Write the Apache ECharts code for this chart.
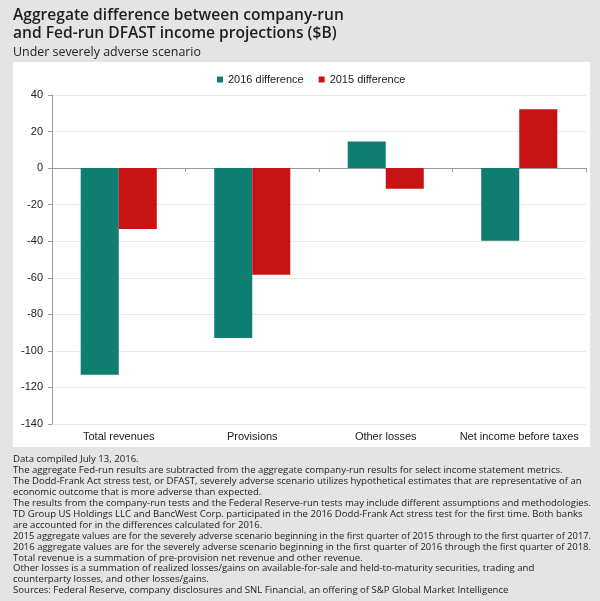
<!DOCTYPE html>
<html>
<head>
<meta charset="utf-8">
<script src="https://cdn.jsdelivr.net/npm/echarts@6/dist/echarts.min.js"></script>
<style>
  html, body { margin: 0; padding: 0; background: #e3e4e3; }
  #chart { width: 600px; height: 601px; }
</style>
</head>
<body>
<div id="chart"></div>
<script>
// chart values
const titleLines = ['Aggregate difference between company-run', 'and Fed-run DFAST income projections ($B)'];
const subtitle = 'Under severely adverse scenario';
const categories = ['Total revenues', 'Provisions', 'Other losses', 'Net income before taxes'];
const seriesNames = ['2016 difference', '2015 difference'];
const diff2016 = [-113, -93, 14.5, -39.7];
const diff2015 = [-33.3, -58.3, -11.3, 32.2];
const yMin = -140, yMax = 40, yStep = 20;
const notes = [
  'Data compiled July 13, 2016.',
  'The aggregate Fed-run results are subtracted from the aggregate company-run results for select income statement metrics.',
  'The Dodd-Frank Act stress test, or DFAST, severely adverse scenario utilizes hypothetical estimates that are representative of an',
  'economic outcome that is more adverse than expected.',
  'The results from the company-run tests and the Federal Reserve-run tests may include different assumptions and methodologies.',
  'TD Group US Holdings LLC and BancWest Corp. participated in the 2016 Dodd-Frank Act stress test for the first time. Both banks',
  'are accounted for in the differences calculated for 2016.',
  '2015 aggregate values are for the severely adverse scenario beginning in the first quarter of 2015 through to the first quarter of 2017.',
  '2016 aggregate values are for the severely adverse scenario beginning in the first quarter of 2016 through the first quarter of 2018.',
  'Total revenue is a summation of pre-provision net revenue and other revenue.',
  'Other losses is a summation of realized losses/gains on available-for-sale and held-to-maturity securities, trading and',
  'counterparty losses, and other losses/gains.',
  'Sources: Federal Reserve, company disclosures and SNL Financial, an offering of S&P Global Market Intelligence'
];

const colors = ['#0f7d70', '#c81314'];
const textFont = '"Open Sans", sans-serif';
const axisFont = '"Liberation Sans", Arial, sans-serif';

// pick a font size so a line of text fills a given width
const measureCtx = document.createElement('canvas').getContext('2d');
function textWidth(text, weight, size) {
  measureCtx.font = weight + ' ' + size + 'px "Open Sans"';
  return measureCtx.measureText(text).width;
}
function fitSize(text, weight, targetWidth) {
  return 20 * targetWidth / textWidth(text, weight, 20);
}
const titleWeight = 600;
const titleSize = fitSize(titleLines[0], titleWeight, 331);
const subSize = fitSize(subtitle, 'normal', 188);
const noteSize = fitSize(notes[4], 'normal', 578);
const noteMaxWidth = 578;

const graphics = [
  { type: 'rect', z: -100, silent: true,
    shape: { x: 13, y: 62, width: 577, height: 385 },
    style: { fill: '#ffffff' } }
];
titleLines.forEach(function (line, i) {
  graphics.push({ type: 'text', x: 13, y: 15.5 + i * 18.5,
    style: { text: line, font: titleWeight + ' ' + titleSize.toFixed(2) + 'px ' + textFont,
      fill: '#1e1e1e', verticalAlign: 'middle' } });
});
graphics.push({ type: 'text', x: 13, y: 52,
  style: { text: subtitle, font: 'normal ' + subSize.toFixed(2) + 'px ' + textFont,
    fill: '#222222', verticalAlign: 'middle' } });
notes.forEach(function (line, i) {
  // squeeze the odd line that would run past the panel edge
  const w = textWidth(line, 'normal', noteSize);
  const sx = w > noteMaxWidth ? noteMaxWidth / w : 1;
  graphics.push({ type: 'text', x: 13, y: 459.5 + i * 10.92, scaleX: sx,
    style: { text: line, font: 'normal ' + noteSize.toFixed(2) + 'px ' + textFont,
      fill: '#222222', verticalAlign: 'middle' } });
});

const chart = echarts.init(document.getElementById('chart'), null, { renderer: 'canvas' });
chart.setOption({
  backgroundColor: '#e3e4e3',
  animation: false,
  color: colors,
  legend: {
    data: seriesNames,
    left: 212,
    top: 69,
    icon: 'rect',
    itemWidth: 6,
    itemHeight: 6,
    itemGap: 15,
    textStyle: { fontFamily: axisFont, fontSize: 11, color: '#222' }
  },
  grid: { left: 52, right: 14, top: 95, bottom: 177, containLabel: false },
  xAxis: [
    {
      type: 'category',
      data: categories,
      position: 'bottom',
      axisLine: { show: false, onZero: false },
      axisTick: { show: false },
      axisLabel: { interval: 0, fontFamily: axisFont, fontSize: 11, color: '#222', margin: 7 },
      splitLine: { show: false }
    },
    {
      type: 'category',
      data: categories,
      position: 'top',
      axisLine: { show: true, onZero: true, lineStyle: { color: '#9a9a9a', width: 1 } },
      axisTick: { show: true, interval: 0, inside: true, length: 4, lineStyle: { color: '#9a9a9a' } },
      axisLabel: { show: false },
      splitLine: { show: false }
    }
  ],
  yAxis: {
    type: 'value',
    min: yMin,
    max: yMax,
    interval: yStep,
    axisLine: { show: true, lineStyle: { color: '#9a9a9a' } },
    axisTick: { show: true, length: 4, lineStyle: { color: '#9a9a9a' } },
    axisLabel: { fontFamily: axisFont, fontSize: 11, color: '#222', margin: 9 },
    splitLine: { show: true, lineStyle: { color: '#e8e8e8', width: 1 } }
  },
  series: [
    { name: seriesNames[0], type: 'bar', data: diff2016, barGap: '0%', barCategoryGap: '43%',
      itemStyle: { color: colors[0] } },
    { name: seriesNames[1], type: 'bar', data: diff2015, barGap: '0%', barCategoryGap: '43%',
      itemStyle: { color: colors[1] } }
  ],
  graphic: graphics
});
</script>
</body>
</html>
